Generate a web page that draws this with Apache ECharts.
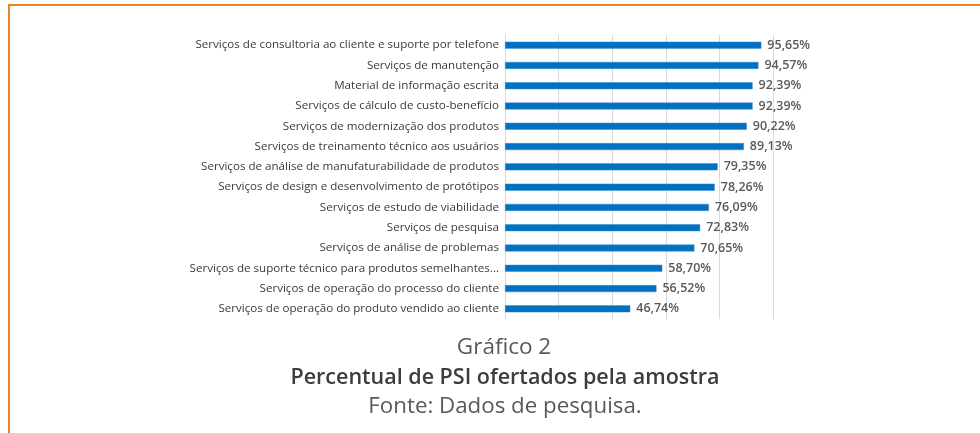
<!DOCTYPE html>
<html>
<head>
<meta charset="utf-8">
<script src="https://cdn.jsdelivr.net/npm/echarts@6/dist/echarts.min.js"></script>
<style>
  html, body { margin: 0; padding: 0; background: #fff; }
  #chart { width: 980px; height: 433px; }
</style>
</head>
<body>
<div id="chart"></div>
<script>
// categorias (de cima para baixo)
var categories = [
  'Serviços de consultoria ao cliente e suporte por telefone',
  'Serviços de manutenção',
  'Material de informação escrita',
  'Serviços de cálculo de custo-benefício',
  'Serviços de modernização dos produtos',
  'Serviços de treinamento técnico aos usuários',
  'Serviços de análise de manufaturabilidade de produtos',
  'Serviços de design e desenvolvimento de protótipos',
  'Serviços de estudo de viabilidade',
  'Serviços de pesquisa',
  'Serviços de análise de problemas',
  'Serviços de suporte técnico para produtos semelhantes...',
  'Serviços de operação do processo do cliente',
  'Serviços de operação do produto vendido ao cliente'
];
// percentuais
var values = [95.65, 94.57, 92.39, 92.39, 90.22, 89.13, 79.35, 78.26, 76.09, 72.83, 70.65, 58.70, 56.52, 46.74];
var xTicks = [0, 20, 40, 60, 80, 100];

var chart = echarts.init(document.getElementById('chart'), null, { renderer: 'canvas' });

var option = {
  animation: false,
  backgroundColor: '#fff',
  textStyle: { fontFamily: 'Open Sans' },
  title: [
    {
      text: 'Gráfico 2', left: 499, top: 331, textAlign: 'center',
      textStyle: { fontSize: 22.5, fontWeight: 'normal', color: '#595959', fontFamily: 'Open Sans' }
    },
    {
      text: 'Percentual de PSI ofertados pela amostra', left: 500, top: 362, textAlign: 'center',
      textStyle: { fontSize: 21.5, fontWeight: 600, color: '#3c3c3c', fontFamily: 'Open Sans' }
    },
    {
      text: 'Fonte: Dados de pesquisa.', left: 500, top: 391, textAlign: 'center',
      textStyle: { fontSize: 22.3, fontWeight: 'normal', color: '#595959', fontFamily: 'Open Sans' }
    }
  ],
  graphic: [
    { type: 'rect', shape: { x: 9, y: 4, width: 971, height: 2 }, style: { fill: '#e8832e' } },
    { type: 'rect', shape: { x: 8, y: 4, width: 2, height: 429 }, style: { fill: '#e8832e' } }
  ],
  grid: { left: 505, right: 207, top: 35, height: 284 },
  xAxis: {
    type: 'value',
    min: 0,
    max: xTicks[xTicks.length - 1],
    interval: xTicks[1] - xTicks[0],
    axisLabel: { show: false },
    axisLine: { show: false },
    axisTick: { show: false },
    splitLine: { show: true, lineStyle: { color: '#d9d9d9', width: 1 } }
  },
  yAxis: {
    type: 'category',
    inverse: true,
    data: categories,
    axisTick: { show: false },
    axisLine: { show: true, lineStyle: { color: '#d9d9d9' } },
    axisLabel: {
      color: '#3a3a3a',
      fontSize: 11.6,
      fontWeight: 500,
      fontFamily: 'Open Sans',
      margin: 6
    }
  },
  series: [
    {
      type: 'bar',
      data: values,
      barWidth: 7,
      itemStyle: { color: '#0070c0', borderColor: '#3d8fd0', borderWidth: 0.5 },
      label: {
        show: true,
        position: 'right',
        distance: 6,
        color: '#595959',
        fontSize: 12.5,
        fontWeight: 600,
        fontFamily: 'Open Sans',
        formatter: function (p) {
          return p.value.toFixed(2).replace('.', ',') + '%';
        }
      }
    }
  ]
};

chart.setOption(option);
</script>
</body>
</html>
